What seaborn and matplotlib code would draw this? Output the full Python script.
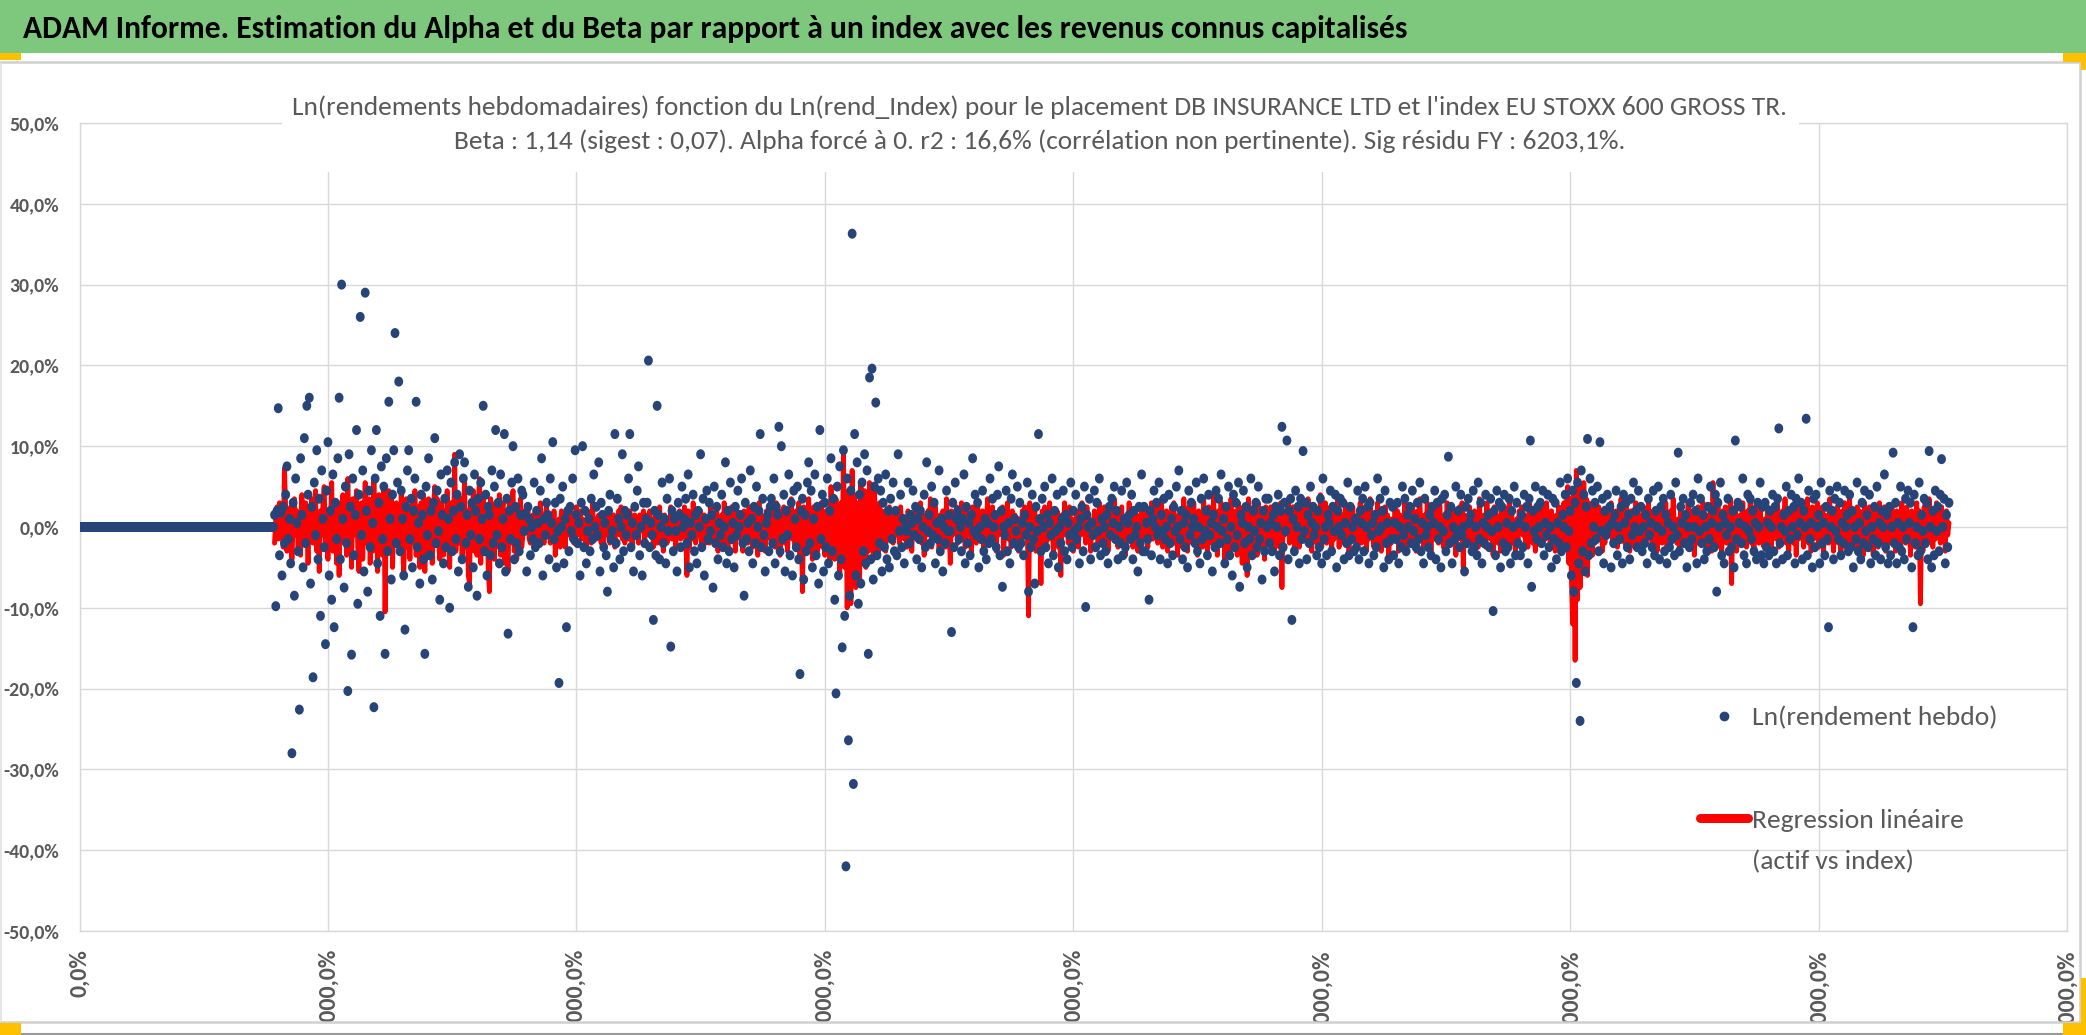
import numpy as np
import pandas as pd
import matplotlib
matplotlib.use("Agg")
import matplotlib.pyplot as plt
import seaborn as sns
from matplotlib import font_manager as fm
from matplotlib.patches import Rectangle
from matplotlib.lines import Line2D
from matplotlib.path import Path
from matplotlib.markers import MarkerStyle
from matplotlib.ticker import FuncFormatter, MultipleLocator

# ---------------- texts ----------------
TITLE = "ADAM Informe. Estimation du Alpha et du Beta par rapport à un index avec les revenus connus capitalisés"
SUB1 = "Ln(rendements hebdomadaires) fonction du Ln(rend_Index) pour le placement DB INSURANCE LTD et l'index EU STOXX 600 GROSS TR."
SUB2 = "Beta : 1,14 (sigest : 0,07). Alpha forcé à 0. r2 : 16,6% (corrélation non pertinente). Sig résidu FY : 6203,1%."
LEG1 = "Ln(rendement hebdo)"
LEG2a = "Regression linéaire"
LEG2b = "(actif vs index)"

# ---------------- data (tenths of a percent) ----------------
lead_zero_weeks = 157          # weeks 0..156 : value 0
first_week = 157

pts_a = [15,-98,20,147,-35,18,-60,25,-20,40, 75,-15,10,-45,-280,30,-85,60,5,-30,
         -226,85,15,-50,110,-20,150,40,160,-70, 25,-186,55,-10,95,-40,35,-110,70,10,
         -25,-145,45,105,-60,20,-90,65,-124,30, -15,85,160,-40,300,10,-75,50,-20,-203,
         90,25,-158,60,-35,15,120,-95,40,260, -10,70,-55,290,20,-80,45,-25,95,5,
         -223,60,120,-45,30,-110,75,-15,50,-157, 85,-30,155,10,-65,40,95,240,-20,55]
pts_b = [180,-30,45,10,-60,-127,25,70,95,-15, 35,-50,20,60,155,-25,5,-70,40,15,
         -40,-157,50,-10,85,-35,20,-65,30,110, -20,45,-5,-90,65,15,-45,35,-25,70,
         10,-100,55,-30,20,80,-15,40,-55,90, 25,-40,60,80,-20,15,-74,45,-10,30,
         -50,65,20,-85,35,-15,55,10,150,-30, 40,-60,25,15,-35,70,-20,50,120,-10,
         30,-45,65,-25,10,115,-55,35,-132,20, -15,55,100,-40,25,-20,60,-30,15,45]
pts_c = [40,-5,15,-55,25,10,-35,0,-15,55, -25,20,5,-20,45,85,-60,10,-10,30,
         15,-40,60,5,105,-15,30,-50,-5,-193, 35,0,50,-45,10,-124,20,-30,25,-5,
         60,-15,95,15,-20,5,-60,30,100,-25, 20,-45,-5,10,-30,35,-15,65,0,25,
         -10,80,-55,30,15,-25,5,-35,-80,20, 40,-15,-5,-50,115,-20,35,10,-40,0,
         90,-30,20,-10,15,60,115,-25,5,-55, 25,-10,45,75,-35,0,-60,30,-20,10]
pts_d = [30,206,-25,5,-10,-115,20,-35,150,15, -40,0,55,-20,10,-45,35,-5,60,-148,
         20,-30,10,-5,-55,30,15,-25,50,0, 10,35,-20,65,-50,5,-10,40,-30,15,
         -45,20,0,90,-25,35,-60,10,45,-15, 30,-5,15,-75,50,-20,25,-40,5,-10,
         40,-25,0,80,-45,20,-30,55,-15,5, -50,25,-10,45,0,15,60,-20,-85,30,
         -15,5,-30,70,10,-45,25,-20,50,0, 20,115,-25,35,-10,-55,5,15,-30,25]
pts_e = [35,-20,60,-45,25,15,124,-30,100,-15, 40,-55,20,-10,65,-35,30,-60,45,10,
         -25,50,-40,-182,20,35,-65,15,-30,55, 80,-20,45,-50,10,65,-35,25,-70,120,
         -15,40,-55,30,-25,60,-45,20,85,-30, 35,-90,-206,50,-60,75,-40,-149,95,-110,
         -420,60,-264,-85,45,363,-318,115,-60,80, -95,40,-70,55,-30,90,-45,70,-157,185,
         -40,196,-65,50,154,-35,60,-20,45,-55, 30,-25,65,-40,20,-50,35,-15,55,-30]
pts_f = [20,-35,90,-5,40,-25,10,-45,0,-5, 55,-20,15,5,45,-10,25,-40,10,-15,
         20,-50,0,40,-25,80,-5,15,-20,50, -10,30,-45,5,-15,70,-30,10,-55,0,
         -20,45,-5,15,-5,-130,30,-25,55,10, 20,-15,0,-30,10,65,-45,25,-20,5,
         -35,15,85,-5,40,-10,30,-50,0,-15, 45,-30,10,-40,5,-20,60,-15,35,0,
         15,-25,40,75,-35,20,-74,0,-10,45, -30,5,-45,35,65,-20,10,-5,50,-25]
pts_g = [30,-20,5,-35,15,-10,55,-80,0,-25, 40,-15,-70,25,-5,115,10,-30,35,0,
         50,-25,15,-45,5,-10,60,-35,20,-5, 40,-50,0,-20,10,45,-30,15,-40,5,
         -10,55,-25,20,-5,40,-15,0,-45,10, 25,-30,50,-99,15,0,35,-40,5,-10,
         45,-25,30,-5,60,-35,10,-20,0,-30, 15,-45,25,-10,35,5,50,-15,20,-40,
         0,-20,45,-35,10,-25,55,5,15,-15, 40,-40,20,-10,0,-55,25,-20,65,-30]
pts_h = [25,-30,5,-15,-90,20,-35,10,45,0, 30,-10,55,-40,15,-5,35,-15,0,-45,
         40,-20,10,-35,25,-5,50,0,70,-15, 20,-40,5,-25,15,-50,45,-10,30,0,
         10,-20,55,-30,0,-45,35,-15,60,-5, 20,-35,40,-10,5,-55,15,-25,45,0,
         35,-20,65,-5,10,-45,25,-15,50,-35, 0,-60,40,-25,30,-10,55,-74,15,5,
         45,-20,25,-50,0,-15,60,-35,20,-5, 30,-25,50,-15,5,-65,20,-30,35,0]
pts_i = [35,-20,5,-30,15,-55,25,0,40,-35, 20,124,-25,30,-5,107,-40,20,35,-115,
         10,-30,45,0,25,-45,35,-15,94,-5, 30,-40,15,-20,50,5,25,-10,0,-35,
         20,-25,35,-45,60,-15,0,-35,15,5, 45,-30,25,-5,40,-50,20,0,35,-10,
         30,-40,5,-20,55,-35,25,-15,0,-30, 10,-25,45,-40,20,5,35,-30,50,0,
         25,-45,30,-10,5,-35,15,-25,60,-5, 35,0,20,-50,45,-20,5,-40,30,-15]
pts_j = [25,-35,5,-15,30,-45,0,-25,50,-10, 35,-30,15,0,25,-20,45,-5,10,-25,
         30,-15,55,-30,5,-45,35,-10,0,-25, 15,-35,25,5,45,-40,30,-15,0,-50,
         35,-5,40,-30,15,87,-20,25,-45,0, -15,50,-5,20,-25,40,-10,0,-55,25,
         -20,35,5,15,-30,45,-25,0,-35,55, -15,30,-45,5,-20,40,0,15,-25,35,
         -5,-104,20,-35,45,0,30,-50,25,-20, 40,-30,5,-25,35,-45,20,0,50,-35]
pts_k = [30,-20,5,-35,15,-25,40,0,25,-45, 35,107,-74,20,-5,50,-15,25,0,30,
         -20,45,-35,5,-10,40,-25,0,-50,35, -15,30,-40,5,-20,55,-30,15,0,40,
         -25,60,-5,20,-60,45,-80,30,-193,55, -45,-240,70,-30,40,-55,25,109,-35,60,
         -20,45,0,30,-15,50,-30,105,-5,35, -45,20,-10,40,0,25,-50,5,-20,15,
         45,-35,0,-15,25,-45,40,5,30,-25, 15,-40,35,-10,55,0,20,-25,45,-5]
pts_l = [25,-30,0,-20,15,-45,35,-10,5,-25, 45,-35,20,0,50,-40,25,-5,35,-30,
         15,-45,5,-25,40,-15,0,-35,55,-10, 92,-30,25,5,35,-20,15,-50,0,-25,
         30,-15,40,0,20,-45,60,-5,35,-20, 15,-40,0,-30,25,-15,50,5,20,-25,
         40,-80,30,0,55,-35,15,-45,5,-10, 35,-30,0,-25,20,-50,107,-15,30,5,
         25,-20,60,-35,0,-45,40,-5,35,-15, 20,-30,5,-40,30,0,55,-35,25,-45]
pts_m = [30,-25,5,-35,20,0,40,-30,25,-45, 35,122,-20,0,-40,15,-5,50,-35,20,
         -15,40,0,25,-45,35,-10,60,5,30, -40,20,0,134,-35,45,-15,5,-50,35,
         -25,40,0,15,-45,55,-20,5,-35,25, -15,-124,45,0,20,-40,35,-5,50,-15,
         30,-35,5,-20,45,0,15,-30,40,-25, 20,-50,0,-15,55,-30,5,-40,30,-20,
         45,-5,15,-25,40,-45,0,-15,25,-35, 50,-20,5,-40,20,0,65,-25,15,-45]
pts_n = [25,-35,0,92,-20,30,-45,5,-25,50, -30,0,-40,35,-15,45,5,30,-50,-124,
         40,-20,0,-35,55,-30,15,-5,35,-20, 30,-40,94,0,-50,20,-35,45,-5,25,
         -30,40,84,0,35,-45,15,-25,30]

red_a = [-20,10,25,-15,30,-5,15,-25,73,20, -30,10,-15,25,-40,5,35,-10,20,-25,
         15,-35,40,-5,-20,30,10,-45,25,-10, 35,-20,5,45,-30,15,-55,20,-10,30,
         50,-25,10,-40,20,-15,55,-30,5,25, -45,15,-60,30,-5,40,-20,10,-35,60,
         -15,25,-50,35,-10,20,45,-25,-55,15, 30,-40,10,55,-20,-5,35,-45,20,-30,
         60,-15,25,-55,40,-20,10,-35,50,-105, 20,-30,45,-10,35,-50,15,-20,30,-15]
red_b = [25,-30,40,-15,-60,10,35,-25,20,-40, 15,30,-20,45,-35,5,25,-50,30,-10,
         40,-55,20,-15,35,-30,10,-45,25,50, -20,35,-10,-40,30,15,-35,20,-25,45,
         -15,-50,30,10,-25,90,-30,40,-20,25, 35,-40,15,55,-25,20,-60,-70,30,-15,
         45,-30,10,-35,25,60,-45,15,40,-20, -30,25,-50,-80,35,-15,20,-40,30,10,
         -25,40,-35,15,30,-45,20,-10,-55,35, -20,30,45,-30,15,-40,25,-15,35,-25]
red_c = [-10,20,15,-5,25,-15,-20,5,15,-10, 20,-25,5,10,30,-15,-10,-20,15,25,
         -5,10,-20,15,-10,20,-35,5,-15,10, -25,20,10,-5,-25,15,-10,5,20,-15,
         10,-20,15,25,-10,-5,20,-15,10,5, -15,-25,20,10,-5,-20,30,-10,5,-15,
         10,15,-10,-20,5,-25,15,5,-10,20, -20,10,5,15,-25,10,-5,20,-10,25,
         -15,5,-20,15,10,-15,20,-5,-25,10, 15,-10,5,-20,15,10,-5,20,-15,5]
red_d = [15,-10,20,-5,10,-25,5,15,-20,-10, 25,-15,10,-30,15,5,-20,10,-10,25,
         -15,20,5,-25,10,-5,20,-15,15,-10, 25,-10,-60,20,-25,10,-15,30,5,-20,
         -10,15,-5,20,-25,10,15,-20,5,-10, -20,25,-10,15,-20,5,20,-30,10,-5,
         15,-20,30,-10,5,-25,15,-10,25,-15, 5,-30,20,-10,15,-15,10,-30,20,-5,
         15,-20,25,-10,5,-25,20,-15,10,-35, 30,-10,15,-25,5,-30,20,-10,25,-15]
red_e = [20,-15,10,-25,30,-10,15,-35,20,-5, 25,-20,5,-30,15,-10,35,-15,10,-25,
         20,-10,30,-35,15,-80,25,-15,10,-30, 35,-20,15,-40,25,-10,20,-30,25,-15,
         30,-25,10,-35,20,-15,10,-45,50,-20, 25,-40,35,-30,20,-60,30,-45,95,-50,
         40,-100,45,-60,-95,70,-55,40,-75,30, -35,-70,55,-40,20,45,-50,25,-30,55,
         -20,35,-40,45,-25,15,-35,30,-10,20, -25,15,-30,20,-15,25,-10,15,-20,10]
red_f = [15,-10,5,-20,25,-5,10,-15,5,-25, 20,-5,15,-30,10,-5,25,-15,5,-10,
         30,-20,5,-35,15,-10,20,-10,35,-25, 10,-15,25,-5,10,-30,15,-5,20,-10,
         -25,35,-15,5,-45,20,-10,15,-5,25, -20,10,-5,30,-15,5,-25,20,-10,5,
         15,-35,25,-5,10,-20,30,-15,5,-5, 20,-25,10,-5,35,-15,5,-20,25,-10,
         5,-30,15,-10,20,-5,25,-35,10,-5, 30,-15,5,-25,20,-10,15,-20,5,-30]
red_g = [10,-15,20,-5,25,-10,5,-110,30,-20, 15,-5,25,-30,10,-15,5,-70,20,-10,
         25,-20,5,-15,30,-5,10,-35,15,-5, 20,-25,5,-60,15,-10,30,-5,5,-20,
         25,-15,10,-30,5,-5,20,-25,15,-10, 30,-5,5,-20,25,-15,10,-30,5,-5,
         20,-10,15,-25,30,-5,5,-15,25,-20, 10,-30,5,-5,20,-15,35,-10,5,-25,
         15,-5,25,-20,10,-35,5,-10,30,-15, 5,-25,20,-5,15,-30,10,-5,25,-15]
red_h = [20,-10,5,-25,15,-5,30,-15,10,-5, 25,-20,5,-10,35,-25,15,-5,20,-30,
         10,-15,25,-5,30,-20,5,-35,15,-10, 20,-25,35,-10,5,-30,25,-15,10,-20,
         30,-5,15,-35,20,-10,5,-25,35,-15, 10,-30,25,-20,15,-5,40,-25,10,-35,
         20,-15,30,-10,5,-40,25,-20,15,-30, 35,-25,10,-15,20,-35,30,-5,15,-45,
         25,-10,20,-60,35,-15,10,-30,25,-20, 15,-35,30,-10,20,-25,5,-40,25,-15]
red_i = [10,-20,25,-5,15,-30,20,-10,5,-25, 30,-75,15,-10,20,-5,35,-20,10,-15,
         25,-30,5,-10,20,-25,15,-5,30,-15, 10,-20,35,-5,15,-30,25,-10,5,-20,
         20,-15,40,-25,10,-5,30,-20,15,-10, 25,-30,5,-15,20,-10,35,-25,10,-5,
         15,-20,30,-5,10,-35,20,-15,25,-10, 5,-25,15,-10,30,-20,10,-5,25,-30,
         20,-15,35,-10,5,-25,15,-20,30,-5, 10,-30,20,-15,25,-5,15,-40,10,-20]
red_j = [10,-15,25,-5,20,-30,15,-10,5,-20, 30,-25,10,-5,15,-20,25,-10,5,-30,
         20,-15,35,-10,5,-25,15,-5,30,-20, 10,-30,20,-15,25,-5,10,-20,35,-10,
         5,-25,15,-10,30,-20,10,-15,25,-5, 20,-35,10,-5,25,-15,30,-50,15,-10,
         5,-20,25,-15,10,-30,20,-5,15,-25, 35,-10,5,-20,15,-25,30,-10,20,-15,
         10,-35,25,-5,15,-20,5,-30,20,-10, 25,-15,10,-25,30,-5,15,-20,5,-35]
red_k = [10,-15,20,-5,25,-10,15,-20,5,-25, 30,-10,15,-20,5,-30,20,-15,10,-5,
         25,-20,10,-15,30,-5,15,-25,20,-10, 5,-30,15,-10,25,-20,10,-15,30,-25,
         20,50,-45,35,-60,-120,40,-165,70,-90, 55,-75,45,-50,55,-40,35,-60,30,-35,
         15,-35,30,-20,10,-15,25,-10,20,-30, 5,-20,15,-10,25,-5,30,-15,10,-20,
         20,-25,10,-15,35,-10,5,-20,25,-15, 10,-30,20,-5,15,-25,30,-10,5,-20]
red_l = [15,-10,25,-20,5,-15,30,-5,10,-25, 20,-15,5,-30,15,-10,25,-20,10,-5,
         30,-25,15,-10,20,-5,35,-15,5,-20, 10,-30,25,-15,5,-20,15,-10,30,-25,
         20,-5,15,-35,10,-20,25,-15,5,-10, 30,-20,10,-25,15,-5,20,-30,55,-15,
         10,-25,30,-10,15,-35,20,-5,25,-20, 5,-15,35,-70,20,-10,25,-30,10,-5,
         15,-20,30,-15,5,-25,20,-10,35,-20, 10,-30,25,-5,15,-20,30,-15,5,-25]
red_m = [10,-20,25,-5,15,-30,20,-10,5,-15, 30,-25,10,-15,20,-5,35,-20,10,-30,
         15,-10,25,-20,5,-35,20,-15,30,-5, 10,-25,15,-10,35,-20,5,-30,25,-15,
         20,-5,30,-25,10,-15,25,-35,15,-10, 5,-20,35,-15,20,-30,10,-5,25,-20,
         15,-35,20,-10,30,-25,5,-15,35,-20, 10,-25,15,-5,25,-30,20,-10,5,-35,
         30,-15,10,-20,25,-5,15,-35,20,-10, 5,-25,30,-15,10,-20,25,-30,15,-5]
red_n = [10,-20,25,-5,15,-30,20,-10,5,-25, 30,-15,10,-20,25,-5,15,-35,20,-10,
         5,-25,30,-15,20,-95,10,-30,25,-5, 15,-20,35,-10,5,-25,20,-15,30,-10,
         10,-20,25,-5,15,-30,20,-10,5]

pts_tenths = (pts_a + pts_b + pts_c + pts_d + pts_e + pts_f + pts_g + pts_h +
              pts_i + pts_j + pts_k + pts_l + pts_m + pts_n)
red_tenths = (red_a + red_b + red_c + red_d + red_e + red_f + red_g + red_h +
              red_i + red_j + red_k + red_l + red_m + red_n)

X_MAX = 1600
X_STEP = 200
Y_MIN, Y_MAX, Y_STEP = -0.5, 0.5, 0.1

# ---------------- styling ----------------
NAVY = "#264478"
RED = "#FF0000"
GREEN = "#7EC87E"
GREY_TXT = "#595959"
GRID = "#D9D9D9"
YELLOW = "#FFC000"

W, H, DPI = 2086, 1035, 100

sns.set_style("white")
names = {f.name for f in fm.fontManager.ttflist}
FONT = "DejaVu Sans"
for cand in ["Carlito", "Liberation Sans Narrow", "Liberation Sans"]:
    if cand in names:
        FONT = cand
        break
plt.rcParams["font.family"] = [FONT, "DejaVu Sans"]

fig = plt.figure(figsize=(W / DPI, H / DPI), dpi=DPI)
fig.patch.set_facecolor("white")
renderer = fig.canvas.get_renderer()

def fx(px):
    return px / W

def fy(py):
    return 1 - py / H

def text_width(s, size, weight="normal"):
    t = fig.text(0, 0, s, fontsize=size, fontweight=weight)
    w = t.get_window_extent(renderer).width
    t.remove()
    return w

def fit_size(s, target, weight="normal"):
    size = 20.0
    for _ in range(3):
        size *= target / text_width(s, size, weight)
    return size

ax = fig.add_axes([fx(79.5), fy(931), fx(2067) - fx(79.5), fy(123) - fy(931)])

weeks = np.arange(lead_zero_weeks + len(pts_tenths))
vals = np.concatenate([np.zeros(lead_zero_weeks), np.array(pts_tenths) / 1000.0])
df_pts = pd.DataFrame({"semaine": weeks, "ln_rend": vals})
df_reg = pd.DataFrame({"semaine": np.arange(first_week, first_week + len(red_tenths)),
                       "reg": np.array(red_tenths) / 1000.0})

theta = np.linspace(0, 2 * np.pi, 41)
ell = Path(np.c_[0.44 * np.cos(theta), 0.5 * np.sin(theta)], closed=True)
ell_marker = MarkerStyle(ell)

sns.lineplot(data=df_reg, x="semaine", y="reg", color=RED, lw=3.5, estimator=None,
             sort=False, ax=ax, zorder=2, legend=False)
sns.scatterplot(data=df_pts, x="semaine", y="ln_rend", color=NAVY, marker=ell_marker,
                s=52, edgecolor="none", linewidth=0, ax=ax, zorder=3, legend=False)

ax.set_xlim(0, X_MAX)
ax.set_ylim(Y_MIN, Y_MAX)
ax.xaxis.set_major_locator(MultipleLocator(X_STEP))
ax.yaxis.set_major_locator(MultipleLocator(Y_STEP))
pct = lambda v, p: f"{v * 100:.1f}".replace(".", ",").replace("-0,0", "0,0") + "%"
ax.xaxis.set_major_formatter(FuncFormatter(pct))
ax.yaxis.set_major_formatter(FuncFormatter(pct))
ax.grid(True, color=GRID, lw=1.0)
ax.set_axisbelow(True)
for sp in ax.spines.values():
    sp.set_color(GRID)
    sp.set_linewidth(1.0)
ax.set_xlabel("")
ax.set_ylabel("")

tick_size = fit_size("-50,0%", 56, "bold")
ax.tick_params(axis="y", length=0, pad=20.5 * 72 / DPI, labelsize=tick_size, labelcolor=GREY_TXT)
ax.tick_params(axis="x", length=0, pad=18 * 72 / DPI, labelsize=tick_size * 1.2,
               labelcolor=GREY_TXT, labelrotation=90)
for lab in ax.get_xticklabels() + ax.get_yticklabels():
    lab.set_fontweight("bold")

# legend
leg_size = fit_size(LEG1, 245)
em = leg_size * DPI / 72
handles = [Line2D([], [], ls="none", marker="o", ms=6.0, mfc=NAVY, mec=NAVY),
           Line2D([], [], color=RED, lw=6.5, solid_capstyle="round")]

def make_legend(ls):
    return ax.legend(handles, [LEG1, LEG2a], loc="center left",
                     bbox_to_anchor=(fx(1700), fy(769)), bbox_transform=fig.transFigure,
                     frameon=False, fontsize=leg_size, labelcolor=GREY_TXT,
                     handlelength=48 / em, handletextpad=4 / em, borderpad=0,
                     borderaxespad=0, labelspacing=ls)

ls = 3.0
leg = make_legend(ls)
for _ in range(2):
    fig.canvas.draw()
    t1, t2 = leg.get_texts()
    b1 = t1.get_window_extent(renderer)
    b2 = t2.get_window_extent(renderer)
    d = (b1.y0 + b1.y1) / 2 - (b2.y0 + b2.y1) / 2
    ls += (102 - d) / em
    leg.remove()
    leg = make_legend(ls)
fig.text(fx(1752), fy(862), LEG2b, ha="left", va="center", fontsize=leg_size, color=GREY_TXT)

# white box behind the chart title (covers gridlines)
fig.add_artist(Rectangle((fx(282), fy(172)), fx(1799) - fx(282), fy(70) - fy(172),
                         transform=fig.transFigure, facecolor="white", edgecolor="none", zorder=4))
sub_size = fit_size(SUB1, 1501)
fig.text(fx(1040), fy(115), SUB1, ha="center", va="baseline", fontsize=sub_size, color=GREY_TXT, zorder=6)
fig.text(fx(1040), fy(148.5), SUB2, ha="center", va="baseline", fontsize=sub_size, color=GREY_TXT, zorder=6)

# bottom cover (clips the rotated x labels like the chart frame does)
fig.add_artist(Rectangle((0, 0), 1, fy(1022.5), transform=fig.transFigure,
                         facecolor="white", edgecolor="none", zorder=5))

# frame lines
def hline(y, x0, x1, color, lw=1.5):
    fig.add_artist(Line2D([fx(x0), fx(x1)], [fy(y), fy(y)], transform=fig.transFigure,
                          color=color, lw=lw, zorder=7))

def vline(x, y0, y1, color, lw=1.5):
    fig.add_artist(Line2D([fx(x), fx(x)], [fy(y0), fy(y1)], transform=fig.transFigure,
                          color=color, lw=lw, zorder=7))

hline(62, 0, 2080, "#D0D0D0", 1.8)
hline(1022, 0, 2080, "#D0D0D0", 1.8)
vline(2079.5, 62, 1022, "#D0D0D0", 1.8)
vline(0.8, 62, 1022, "#E0E0E0", 1.2)
hline(1033.5, 0, 2086, "#9A9A9A", 1.5)

# title bar
fig.add_artist(Rectangle((0, fy(53)), 1, fy(0) - fy(53), transform=fig.transFigure,
                         facecolor=GREEN, edgecolor="none", zorder=8))
hline(0.8, 0, 2086, "#6AAE6A", 1.2)
title_size = fit_size(TITLE, 1385, "bold")
fig.text(fx(22.6), fy(38), TITLE, ha="left", va="baseline", fontsize=title_size,
         fontweight="bold", color="black", zorder=9)

# selection handles
for (x0, y0, x1, y1) in [(0, 53, 21, 60), (2063, 53, 2086, 62), (2081, 53, 2086, 70),
                         (0, 1023, 21, 1035), (2081, 978, 2086, 1035), (2063, 1023, 2086, 1035)]:
    fig.add_artist(Rectangle((fx(x0), fy(y1)), fx(x1) - fx(x0), fy(y0) - fy(y1),
                             transform=fig.transFigure, facecolor=YELLOW, edgecolor="none", zorder=9))

fig.savefig("out.png", dpi=DPI, facecolor="white")
